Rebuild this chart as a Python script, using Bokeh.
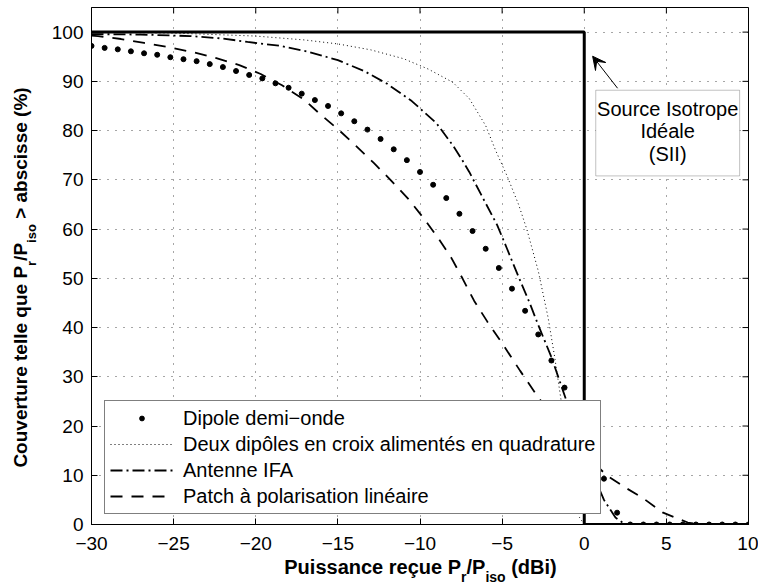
import math
from bokeh.plotting import figure
from bokeh.layouts import row, column
from bokeh.models import (Range1d, FixedTicker, Legend, LegendItem, Label,
                          BoxAnnotation, Arrow, VeeHead)
from bokeh.core.properties import value
from bokeh.embed import file_html
from bokeh.resources import INLINE

FONT = "Liberation Sans"
NBSP = "\u00a0"

# ---------------- data ----------------
x_ticks = [-30, -25, -20, -15, -10, -5, 0, 5, 10]
x_tick_labels = ["\u221230", "\u221225", "\u221220", "\u221215", "\u221210", "\u22125", "0", "5", "10"]
y_ticks = [0, 10, 20, 30, 40, 50, 60, 70, 80, 90, 100]
y_tick_labels = ["0", "10", "20", "30", "40", "50", "60", "70", "80", "90", "100"]

series_names = ["Dipole demi\u2212onde",
                "Deux dip\u00f4les en croix aliment\u00e9s en quadrature",
                "Antenne IFA",
                "Patch \u00e0 polarisation lin\u00e9aire"]

dipole_x = [-30.0, -29.2, -28.4, -27.6, -26.8, -26.0, -25.2, -24.4, -23.6, -22.8,
            -22.0, -21.2, -20.4, -19.6, -18.8, -18.0, -17.2, -16.4, -15.6, -14.8,
            -14.0, -13.2, -12.4, -11.6, -10.8, -10.0, -9.2, -8.4, -7.6, -6.8,
            -6.0, -5.2, -4.4, -3.6, -2.8, -2.0, -1.2, -0.4, 0.4, 1.2,
            2.0, 2.8, 3.6, 4.4, 5.2, 6.0, 6.8, 7.6, 8.4, 9.2, 10.0]
dipole_y = [97.2, 96.8, 96.5, 96.1, 95.7, 95.4, 94.9, 94.5, 94.1, 93.5,
            92.9, 92.1, 91.3, 90.6, 89.6, 88.7, 87.5, 86.2, 85.0, 83.5,
            81.9, 80.2, 78.3, 76.2, 74.0, 71.6, 69.0, 66.3, 63.1, 59.6,
            56.0, 52.1, 47.9, 43.4, 38.6, 33.3, 27.8, 21.5, 15.2, 9.3,
            2.4, 0, 0, 0, 0, 0, 0, 0, 0, 0, 0]

deux_x = [-30, -25, -20, -17, -15, -13, -11, -9.5, -8, -7, -6, -5.4, -4.7, -4,
          -3.5, -2.8, -2.2, -1.8, -1.4, -1.0, -0.6, -0.3, 0.0, 10]
deux_y = [100, 99.8, 99.2, 98.4, 97.6, 96.4, 94.6, 92.5, 89.8, 86.5, 81, 76, 70.8, 65,
          60, 51.5, 42, 34, 25, 15, 6.5, 1.5, 0, 0]

ifa_x = [-30, -27, -24, -22, -20.5, -18.5, -16.8, -15, -13.4, -12, -10.5, -9, -8, -7.5, -7,
         -6.2, -5.3, -4.7, -4, -3.3, -2.8, -2, -1.4, -0.5, 0.5, 1.2, 1.9, 2.5, 10]
ifa_y = [99.6, 99.5, 99.2, 98.7, 98, 97.2, 96, 94.3, 92.1, 89.5, 86, 81.5, 77, 74.4, 71.6,
         66.5, 60.8, 56, 50.3, 44.8, 40.5, 34, 28.2, 19.5, 10.5, 5, 1.4, 0, 0]

patch_x = [-30, -29.6, -28.2, -26.8, -25.4, -23.8, -22.4, -21, -19.7, -18.4, -17.1, -16.1,
           -15, -13.9, -12.8, -11.8, -10.7, -9.8, -8.9, -8.1, -7.4, -6.7, -5.9, -4.9,
           -3.9, -2.8, -2, -1, 0, 1.4, 2.5, 3.6, 4.8, 6.3, 7, 10]
patch_y = [99.3, 99.2, 98.6, 97.8, 97, 95.9, 94.7, 93.3, 91.5, 89.2, 86.4, 83.4,
           80.3, 76.9, 73.4, 70, 66.1, 62.3, 58.2, 54.2, 49.9, 45.4, 41.2, 36.3,
           31.2, 25.8, 22.5, 18.3, 14.3, 9.9, 7.5, 5.3, 2.4, 0.4, 0, 0]

sii_x = [-30, 0, 0, 10]
sii_y = [100, 100, 0, 0]

sii_text = ["Source Isotrope", "Id\u00e9ale", "(SII)"]

x_title = [("Puissance re\u00e7ue P", False), ("r", True), ("/P", False), ("iso", True),
           (NBSP + "(dBi)", False)]
y_title = [("Couverture telle que P", False), ("r", True), ("/P", False), ("iso", True),
           (NBSP + ">" + NBSP + "abscisse (%)", False)]

# ---------------- sizes ----------------
TOTAL_W, TOTAL_H = 758, 586
LEFT_W = 45
BOTTOM_H = 30
MAIN_W = TOTAL_W - LEFT_W
MAIN_H = TOTAL_H - BOTTOM_H
FRAME_L, FRAME_R = 91, 748          # page x of the plot frame
BORDER_L = FRAME_L - LEFT_W
BORDER_R = TOTAL_W - FRAME_R

# ---------------- main figure ----------------
p = figure(width=MAIN_W, height=MAIN_H, output_backend="svg", toolbar_location=None,
           x_range=Range1d(-30, 10), y_range=Range1d(0, 105),
           min_border_left=BORDER_L, min_border_right=BORDER_R, min_border_top=7, min_border_bottom=32,
           background_fill_color="white", border_fill_color="white")
p.outline_line_color = "black"
p.outline_line_width = 1

for ax, ticks, labels, standoff in ((p.xaxis[0], x_ticks, x_tick_labels, 12),
                                     (p.yaxis[0], y_ticks, y_tick_labels, 8)):
    ax.ticker = FixedTicker(ticks=ticks)
    ax.major_tick_in = 6
    ax.major_tick_out = 0
    ax.minor_tick_line_color = None
    ax.axis_line_color = "black"
    ax.major_tick_line_color = "black"
    ax.major_label_text_font = FONT
    ax.major_label_text_font_size = "19px"
    ax.major_label_text_color = "black"
    ax.major_label_standoff = standoff
    ax.major_label_overrides = {t: l for t, l in zip(ticks, labels)}
    ax.axis_label = None

# ticks on the top and right edges of the box
p.ray(x=x_ticks, y=105, length=6, length_units="screen", angle=-math.pi / 2,
      line_color="black", line_width=1)
p.ray(x=10, y=y_ticks, length=6, length_units="screen", angle=math.pi,
      line_color="black", line_width=1)

p.xgrid.ticker = FixedTicker(ticks=x_ticks)
p.ygrid.ticker = FixedTicker(ticks=y_ticks)
for g in (p.xgrid[0], p.ygrid[0]):
    g.grid_line_color = "black"
    g.grid_line_alpha = 0.7
    g.grid_line_dash = "1 7"
    g.grid_line_width = 1

# ---------------- series ----------------
r_deux = p.line(deux_x, deux_y, line_color="black", line_width=1, line_dash="1 3")
r_ifa = p.line(ifa_x, ifa_y, line_color="black", line_width=1.8, line_dash="12 4 2 4")
r_patch = p.line(patch_x, patch_y, line_color="black", line_width=1.8, line_dash="12 9")
r_dip = p.scatter(dipole_x, dipole_y, marker="circle", size=5, fill_color="black", line_color="black")
p.line(sii_x, sii_y, line_color="black", line_width=3)

legend = Legend(items=[LegendItem(label=series_names[0], renderers=[r_dip]),
                       LegendItem(label=series_names[1], renderers=[r_deux]),
                       LegendItem(label=series_names[2], renderers=[r_ifa]),
                       LegendItem(label=series_names[3], renderers=[r_patch])],
                location=(13, 10), orientation="vertical",
                label_text_font=FONT, label_text_font_size="20px", label_text_color="black",
                glyph_width=63, glyph_height=12, label_height=24, label_standoff=10,
                spacing=2, padding=5, margin=0,
                border_line_color="black", border_line_width=1,
                background_fill_color="white", background_fill_alpha=1.0)
p.add_layout(legend, "center")

# ---------------- annotation SII ----------------
p.add_layout(BoxAnnotation(left=0.7, right=9.46, top=88.2, bottom=70.8,
                           fill_color="white", fill_alpha=1.0,
                           line_color="#333333", line_width=1, level="annotation"))
for t, yy in zip(sii_text, [84.4, 79.9, 75.3]):
    p.add_layout(Label(x=5.08, y=yy, text=t, text_align="center", text_baseline="middle",
                       text_font=FONT, text_font_size="20px", text_color="black"))
p.add_layout(Arrow(end=VeeHead(size=13, fill_color="black", line_color="black"),
                   x_start=2.03, y_start=88.6, x_end=0.51, y_end=95.1,
                   line_color="black", line_width=1))

# ---------------- axis titles (with subscripts) ----------------
W_BOLD = {" ": 278, NBSP: 278, "P": 667, "u": 611, "i": 278, "s": 556, "a": 556, "n": 611,
          "c": 556, "e": 556, "r": 389, "\u00e7": 556, "q": 611, "/": 278, "o": 611, "(": 333,
          "d": 611, "B": 722, ")": 333, "C": 722, "v": 556, "t": 333, "l": 278,
          ">": 584, "b": 611, "%": 889}


def tw(s, size):
    return sum(W_BOLD.get(ch, 600) for ch in s) * size / 1000.0


def layout_pieces(pieces, main, sub):
    out, pos = [], 0.0
    for txt, is_sub in pieces:
        size = sub if is_sub else main
        out.append((txt, is_sub, size, pos))
        pos += tw(txt, size)
    return out, pos


def blank_fig(w, h, xr, yr, bl=0, br=0):
    f = figure(width=w, height=h, output_backend="svg", toolbar_location=None,
               x_range=Range1d(*xr), y_range=Range1d(*yr),
               x_axis_type=None, y_axis_type=None,
               min_border_left=bl, min_border_right=br, min_border_top=0, min_border_bottom=0,
               background_fill_color="white", border_fill_color="white")
    f.outline_line_color = None
    f.xgrid.visible = False
    f.ygrid.visible = False
    return f


BASE_FIX = 0.4   # measured baseline correction (fraction of font size)

# x title below the main figure; x in page pixels (frame aligned with main frame),
# y in pixels measured up from the page bottom
bx = blank_fig(MAIN_W, BOTTOM_H, (FRAME_L, FRAME_R), (0, BOTTOM_H), BORDER_L, BORDER_R)
pcs, total = layout_pieces(x_title, 20, 14)
x0 = 420 - total / 2
for txt, is_sub, size, pos in pcs:
    page_base = 574 + (8 if is_sub else 0)
    bx.text(x=[x0 + pos], y=[TOTAL_H - page_base + BASE_FIX * size], text=[txt],
            text_font=value(FONT), text_font_style="bold", text_font_size=value(f"{size}px"),
            text_align="left", text_baseline="alphabetic", text_color="black")

# y title left of the main figure (page coords: baseline x=28, centre y=277)
ly = blank_fig(LEFT_W, TOTAL_H, (0, LEFT_W), (0, TOTAL_H))
pcs, total = layout_pieces(y_title, 19, 13)
y0 = TOTAL_H - 277 - total / 2
for txt, is_sub, size, pos in pcs:
    page_x = 28 + (8 if is_sub else 0)
    ly.text(x=[page_x - BASE_FIX * size], y=[y0 + pos], text=[txt], angle=math.pi / 2,
            text_font=value(FONT), text_font_style="bold", text_font_size=value(f"{size}px"),
            text_align="left", text_baseline="alphabetic", text_color="black")

layout = row(ly, column(p, bx))
open("out.html", "w").write(file_html(layout, INLINE))
